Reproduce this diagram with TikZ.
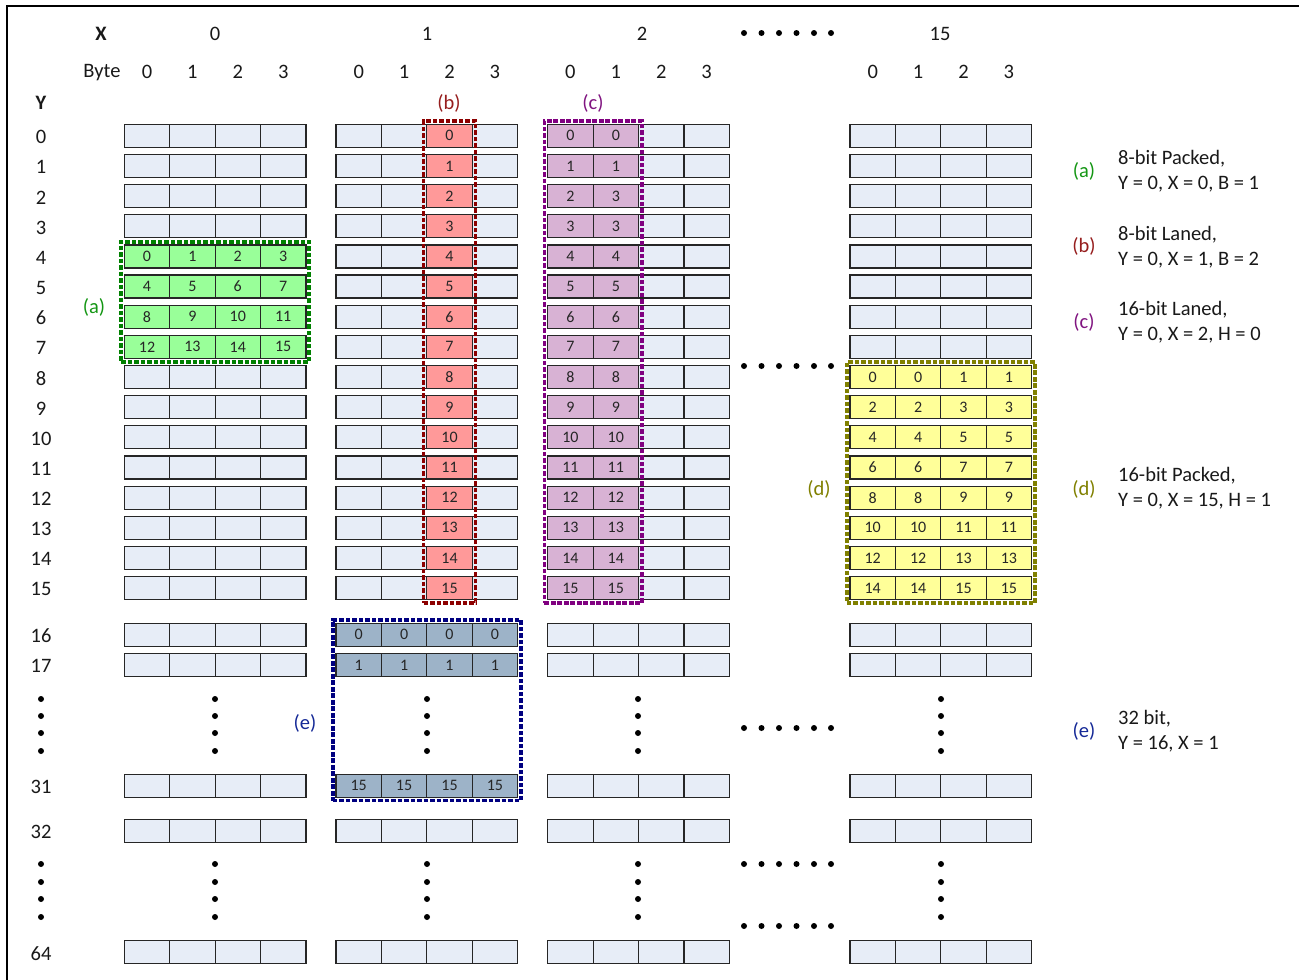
\documentclass[tikz,border=0pt]{standalone}
\usepackage{fontspec}
\setmainfont{Carlito}
\usetikzlibrary{fit,calc}
\definecolor{emptyc}{RGB}{231,237,247}
\definecolor{greenc}{RGB}{153,255,153}
\definecolor{redc}{RGB}{255,153,153}
\definecolor{purc}{RGB}{216,178,212}
\definecolor{yelc}{RGB}{255,255,153}
\definecolor{bluec}{RGB}{157,179,200}
\definecolor{cA}{RGB}{0,128,0}
\definecolor{cB}{RGB}{140,0,0}
\definecolor{cC}{RGB}{128,0,128}
\definecolor{cD}{RGB}{128,128,0}
\definecolor{cE}{RGB}{0,0,128}
\definecolor{cAt}{RGB}{20,150,20}
\definecolor{cBt}{RGB}{150,30,30}
\definecolor{cCt}{RGB}{128,20,128}
\definecolor{cDt}{RGB}{128,128,0}
\definecolor{cEt}{RGB}{20,40,150}
\begin{document}
\begin{tikzpicture}[x=1pt,y=-1pt,
  cell/.style={draw=black!85, line width=1.2pt, minimum width=45.4pt, minimum height=23pt,
    inner sep=0pt, outer sep=0pt, font=\fontsize{16}{16}\selectfont, text=black!85},
  lbl/.style={font=\fontsize{20.5}{25}\selectfont, inner sep=0pt, text=black!90, yshift=-1.3pt},
  dotbox/.style={dash pattern=on 4.6pt off 1.9pt, line width=3.8pt, inner sep=3.3pt},
  dotc/.style={fill=black},
  frame/.style={line width=2.4pt, black}]
\useasboundingbox (0,0) rectangle (1299,980);
\coordinate (fbl) at (7,981);
\coordinate (ftl) at (7,6);
\coordinate (ftr) at (1300,6);
\draw[frame] (fbl) -- (ftl) -- (ftr);

% header
\node[lbl, font=\fontsize{20.5}{25}\selectfont\bfseries] (hx) at (101,33) {X};
\node[lbl] (hx0) at (215,33) {0};
\node[lbl] (hx1) at (427,33) {1};
\node[lbl] (hx2) at (642,33) {2};
\node[lbl] (hx15) at (940,33) {15};
\node[lbl] (hbyte) at (102,71) {Byte};
\node[lbl, font=\fontsize{20.5}{25}\selectfont\bfseries] (hy) at (41,102) {Y};
\foreach \k/\L in {0/124.3,1/336,2/547.7,15/850}{
  \foreach \b in {0,...,3}{
    \node[lbl] (hb-\k-\b) at ({\L+45.4*(\b+0.5)},71) {\b};
  }
}

% rows 0..15
\foreach \r [evaluate=\r as \yy using 135.8+30.15*\r] in {0,...,15}{
  \node[lbl] (y-\r) at (41,\yy) {\r};
  % X = 1
  \foreach \b in {0,1,3}{
    \node[cell, fill=emptyc] (c-\r-1-\b) at ({336+45.4*(\b+0.5)},\yy) {};
  }
  \node[cell, fill=redc] (c-\r-1-2) at ({336+45.4*2.5},\yy) {\r};
  % X = 2
  \foreach \b in {2,3}{
    \node[cell, fill=emptyc] (c-\r-2-\b) at ({547.7+45.4*(\b+0.5)},\yy) {};
  }
  \node[cell, fill=purc] (c-\r-2-0) at ({547.7+45.4*0.5},\yy) {\r};
  \node[cell, fill=purc] (c-\r-2-1) at ({547.7+45.4*1.5},\yy) {\ifnum\r=2 3\else\r\fi};
}
% X = 0, rows 0..15
\foreach \r [evaluate=\r as \yy using 135.8+30.15*\r] in {0,1,2,3,8,9,10,11,12,13,14,15}{
  \foreach \b in {0,...,3}{
    \node[cell, fill=emptyc] (c-\r-0-\b) at ({124.3+45.4*(\b+0.5)},\yy) {};
  }
}
\foreach \r [evaluate=\r as \yy using 135.8+30.15*\r] in {4,...,7}{
  \foreach \b in {0,...,3}{
    \pgfmathtruncatemacro{\v}{4*(\r-4)+\b}
    \node[cell, fill=greenc] (c-\r-0-\b) at ({124.3+45.4*(\b+0.5)},\yy) {\v};
  }
}
% X = 15, rows 0..15
\foreach \r [evaluate=\r as \yy using 135.8+30.15*\r] in {0,...,7}{
  \foreach \b in {0,...,3}{
    \node[cell, fill=emptyc] (c-\r-15-\b) at ({850+45.4*(\b+0.5)},\yy) {};
  }
}
\foreach \r [evaluate=\r as \yy using 135.8+30.15*\r] in {8,...,15}{
  \foreach \b in {0,...,3}{
    \pgfmathtruncatemacro{\v}{2*(\r-8)+(\b>1)}
    \node[cell, fill=yelc] (c-\r-15-\b) at ({850+45.4*(\b+0.5)},\yy) {\v};
  }
}
% further rows
\foreach \r/\yy in {16/634.7,17/665,31/785.7,32/831,64/952}{
  \node[lbl] (y-\r) at (41,\yy) {\r};
  \foreach \k/\L in {0/124.3,2/547.7,15/850}{
    \foreach \b in {0,...,3}{
      \node[cell, fill=emptyc] (c-\r-\k-\b) at ({\L+45.4*(\b+0.5)},\yy) {};
    }
  }
}
\foreach \r/\yy/\v in {16/634.7/0,17/665/1,31/785.7/15}{
  \foreach \b in {0,...,3}{
    \node[cell, fill=bluec] (c-\r-1-\b) at ({336+45.4*(\b+0.5)},\yy) {\v};
  }
}
\foreach \r/\yy in {32/831,64/952}{
  \foreach \b in {0,...,3}{
    \node[cell, fill=emptyc] (c-\r-1-\b) at ({336+45.4*(\b+0.5)},\yy) {};
  }
}

% ellipsis dots
\foreach \x in {41,215,427,638,941}{
  \foreach \y in {699,716,733,751,864,882,899,917}{
    \fill[dotc] (\x,\y) circle (3pt);
  }
}
\foreach \y in {33,366,728,864,926}{
  \foreach \x in {744,761.5,779,796.5,814,831}{
    \fill[dotc] (\x,\y) circle (3pt);
  }
}

% dotted selection boxes
\node[dotbox, draw=cA, fit=(c-4-0-0)(c-7-0-3)] (boxa) {};
\node[dotbox, draw=cB, fit=(c-0-1-2)(c-15-1-2)] (boxb) {};
\node[dotbox, draw=cC, fit=(c-0-2-0)(c-15-2-1)] (boxc) {};
\node[dotbox, draw=cD, fit=(c-8-15-0)(c-15-15-3)] (boxd) {};
\node[dotbox, draw=cE, fit=(c-16-1-0)(c-31-1-3)] (boxe) {};

% box labels
\node[lbl, text=cAt] (la) at (94,306) {(a)};
\node[lbl, text=cBt] (lb) at (449,102) {(b)};
\node[lbl, text=cCt] (lc) at (593,102) {(c)};
\node[lbl, text=cDt] (ld) at (819,488) {(d)};
\node[lbl, text=cEt] (le) at (305,722) {(e)};

% legend
\node[lbl, text=cAt] (gA) at (1084,170) {(a)};
\node[lbl, anchor=west, align=left] (tA) at (1118,170) {8-bit Packed,\\Y = 0, X = 0, B = 1};
\node[lbl, text=cBt] (gB) at (1084,245) {(b)};
\node[lbl, anchor=west, align=left] (tB) at (1118,245.5) {8-bit Laned,\\Y = 0, X = 1, B = 2};
\node[lbl, text=cCt] (gC) at (1084,321) {(c)};
\node[lbl, anchor=west, align=left] (tC) at (1118,320.5) {16-bit Laned,\\Y = 0, X = 2, H = 0};
\node[lbl, text=cDt] (gD) at (1084,488) {(d)};
\node[lbl, anchor=west, align=left] (tD) at (1118,487) {16-bit Packed,\\Y = 0, X = 15, H = 1};
\node[lbl, text=cEt] (gE) at (1084,730) {(e)};
\node[lbl, anchor=west, align=left] (tE) at (1118,729.5) {32 bit,\\Y = 16, X = 1};
\end{tikzpicture}
\end{document}
